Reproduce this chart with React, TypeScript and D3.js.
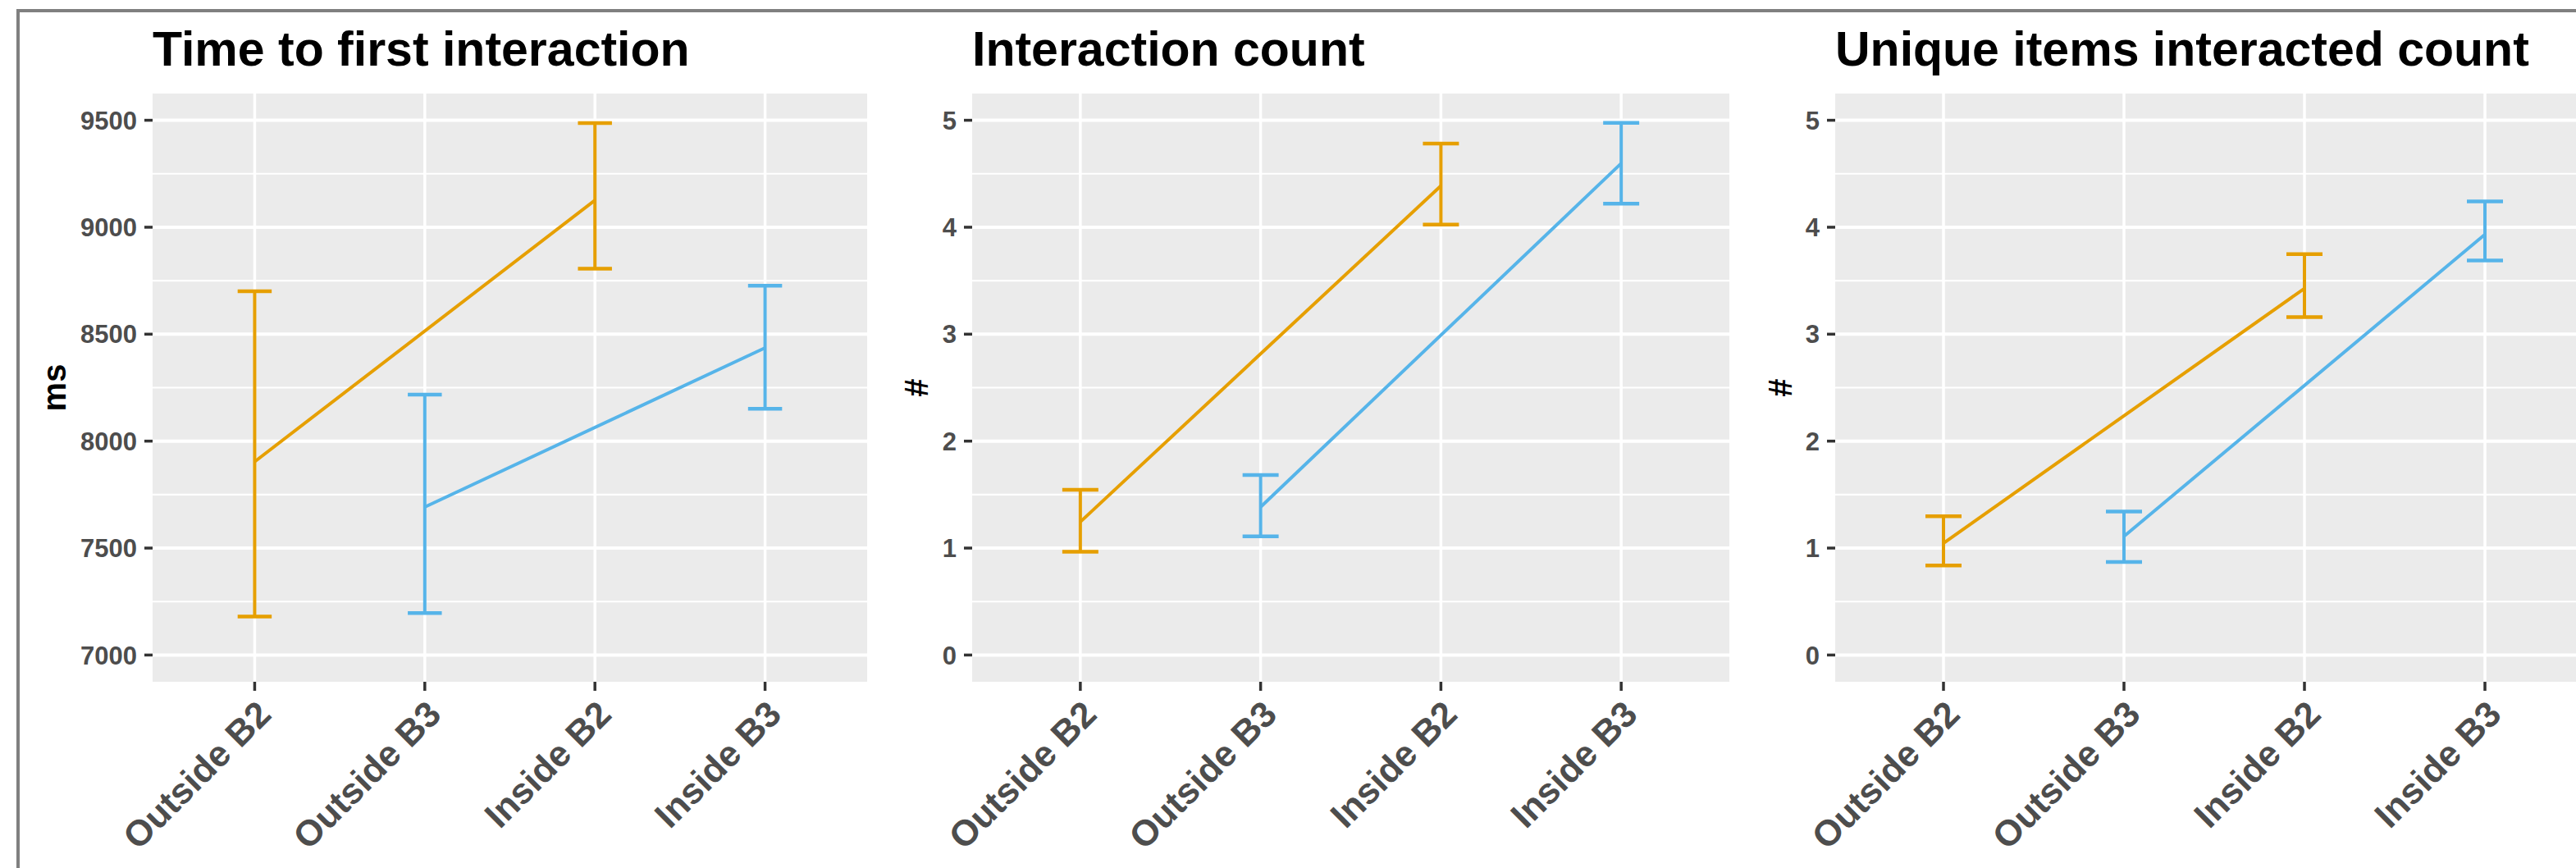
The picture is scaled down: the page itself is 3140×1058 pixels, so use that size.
import React from "react";
import * as d3 from "d3";

// ---------- data ----------
const categories = ["Outside B2", "Outside B3", "Inside B2", "Inside B3"];
const b2Cats = ["Outside B2", "Inside B2"];
const b3Cats = ["Outside B3", "Inside B3"];

const panelTitles = ["Time to first interaction", "Interaction count", "Unique items interacted count"];
const yAxisTitles = ["ms", "#", "#"];

const timeTicks = [7000, 7500, 8000, 8500, 9000, 9500];
const timeMinor = [7250, 7750, 8250, 8750, 9250];
const timeLimits = [7000, 9500];
const countTicks = [0, 1, 2, 3, 4, 5];
const countMinor = [0.5, 1.5, 2.5, 3.5, 4.5];
const countLimits = [0, 5];

const timeMeanB2 = [7904, 9126];
const timeLowB2 = [7180, 8806];
const timeHighB2 = [8701, 9487];
const timeMeanB3 = [7692, 8436];
const timeLowB3 = [7196, 8151];
const timeHighB3 = [8217, 8727];

const countMeanB2 = [1.245, 4.387];
const countLowB2 = [0.965, 4.024];
const countHighB2 = [1.545, 4.783];
const countMeanB3 = [1.384, 4.597];
const countLowB3 = [1.11, 4.221];
const countHighB3 = [1.683, 4.975];

const uniqueMeanB2 = [1.046, 3.428];
const uniqueLowB2 = [0.837, 3.16];
const uniqueHighB2 = [1.297, 3.748];
const uniqueMeanB3 = [1.11, 3.932];
const uniqueLowB3 = [0.869, 3.689];
const uniqueHighB3 = [1.342, 4.241];

// ---------- styling / layout ----------
const W = 3140;
const H = 1058;
const FONT = "'Liberation Sans', Arial, Helvetica, sans-serif";
const ORANGE = "#E69F00";
const BLUE = "#56B4E9";
const PANEL_BG = "#EBEBEB";
const TOP = 114;
const BOTTOM = 831;
const panelX = [
  [186, 1057],
  [1185, 2108],
  [2237, 3161],
];
const yTitleX = [80, 1131, 2184];
const LW = 4;

type Series = { cats: string[]; mean: number[]; low: number[]; high: number[]; color: string };

const panels = [
  {
    title: panelTitles[0],
    yTitle: yAxisTitles[0],
    ticks: timeTicks,
    minor: timeMinor,
    limits: timeLimits,
    series: [
      { cats: b2Cats, mean: timeMeanB2, low: timeLowB2, high: timeHighB2, color: ORANGE },
      { cats: b3Cats, mean: timeMeanB3, low: timeLowB3, high: timeHighB3, color: BLUE },
    ] as Series[],
  },
  {
    title: panelTitles[1],
    yTitle: yAxisTitles[1],
    ticks: countTicks,
    minor: countMinor,
    limits: countLimits,
    series: [
      { cats: b2Cats, mean: countMeanB2, low: countLowB2, high: countHighB2, color: ORANGE },
      { cats: b3Cats, mean: countMeanB3, low: countLowB3, high: countHighB3, color: BLUE },
    ] as Series[],
  },
  {
    title: panelTitles[2],
    yTitle: yAxisTitles[2],
    ticks: countTicks,
    minor: countMinor,
    limits: countLimits,
    series: [
      { cats: b2Cats, mean: uniqueMeanB2, low: uniqueLowB2, high: uniqueHighB2, color: ORANGE },
      { cats: b3Cats, mean: uniqueMeanB3, low: uniqueLowB3, high: uniqueHighB3, color: BLUE },
    ] as Series[],
  },
];

function Panel({ p, i }: { p: (typeof panels)[number]; i: number }) {
  const [x0, x1] = panelX[i];
  const span = p.limits[1] - p.limits[0];
  const y = d3
    .scaleLinear()
    .domain([p.limits[0] - span * 0.05, p.limits[1] + span * 0.05])
    .range([BOTTOM, TOP]);
  const x = d3.scalePoint<string>().domain(categories).range([x0, x1]).padding(0.6);
  const capHalf = (x.step() * 0.2) / 2;
  const xLabelSize = 44;
  const capH = 0.716 * xLabelSize;
  return (
    <g>
      <text x={x0} y={80} fontFamily={FONT} fontWeight="bold" fontSize={59} fill="#000">
        {p.title}
      </text>
      <rect x={x0} y={TOP} width={x1 - x0} height={BOTTOM - TOP} fill={PANEL_BG} />
      {p.minor.map((v) => (
        <line key={"mi" + v} x1={x0} x2={x1} y1={y(v)} y2={y(v)} stroke="#fff" strokeWidth={2.2} />
      ))}
      {p.ticks.map((v) => (
        <line key={"ma" + v} x1={x0} x2={x1} y1={y(v)} y2={y(v)} stroke="#fff" strokeWidth={4} />
      ))}
      {categories.map((c) => (
        <line key={"v" + c} x1={x(c)} x2={x(c)} y1={TOP} y2={BOTTOM} stroke="#fff" strokeWidth={3.5} />
      ))}
      {/* y axis ticks + labels */}
      {p.ticks.map((v) => (
        <g key={"yt" + v}>
          <line x1={x0 - 10} x2={x0} y1={y(v)} y2={y(v)} stroke="#333" strokeWidth={3.5} />
          <text
            x={x0 - 19}
            y={y(v)}
            dy="0.358em"
            textAnchor="end"
            fontFamily={FONT}
            fontWeight="bold"
            fontSize={31}
            fill="#4D4D4D"
          >
            {v}
          </text>
        </g>
      ))}
      {/* x axis ticks + labels */}
      {categories.map((c) => (
        <g key={"xt" + c}>
          <line x1={x(c)} x2={x(c)} y1={BOTTOM} y2={BOTTOM + 11} stroke="#333" strokeWidth={3.5} />
          <text
            transform={`translate(${(x(c) as number) + 0.707 * capH},${851 + 0.707 * capH}) rotate(-45)`}
            textAnchor="end"
            fontFamily={FONT}
            fontWeight="bold"
            fontSize={xLabelSize}
            fill="#4D4D4D"
          >
            {c}
          </text>
        </g>
      ))}
      {/* y axis title */}
      <text
        transform={`translate(${yTitleX[i]},${(TOP + BOTTOM) / 2}) rotate(-90)`}
        textAnchor="middle"
        fontFamily={FONT}
        fontWeight="bold"
        fontSize={40}
        fill="#000"
      >
        {p.yTitle}
      </text>
      {/* series */}
      {p.series.map((s, si) => {
        const path = d3
          .line<number>()
          .x((_, k) => x(s.cats[k]) as number)
          .y((d) => y(d))(s.mean);
        return (
          <g key={"s" + si}>
            <path d={path || ""} fill="none" stroke={s.color} strokeWidth={LW} />
            {s.cats.map((c, k) => {
              const cx = x(c) as number;
              return (
                <g key={c}>
                  <line x1={cx} x2={cx} y1={y(s.low[k])} y2={y(s.high[k])} stroke={s.color} strokeWidth={LW} />
                  <line
                    x1={cx - capHalf}
                    x2={cx + capHalf}
                    y1={y(s.low[k])}
                    y2={y(s.low[k])}
                    stroke={s.color}
                    strokeWidth={LW + 0.5}
                  />
                  <line
                    x1={cx - capHalf}
                    x2={cx + capHalf}
                    y1={y(s.high[k])}
                    y2={y(s.high[k])}
                    stroke={s.color}
                    strokeWidth={LW + 0.5}
                  />
                </g>
              );
            })}
          </g>
        );
      })}
    </g>
  );
}

export default function App() {
  return (
    <svg
      width={W}
      height={H}
      viewBox={`0 0 ${W} ${H}`}
      style={{ position: "absolute", left: 0, top: 0, display: "block", background: "#fff" }}
    >
      <rect x={0} y={0} width={W} height={H} fill="#fff" />
      {panels.map((p, i) => (
        <Panel key={i} p={p} i={i} />
      ))}
      <rect x={22} y={13} width={W + 100} height={H + 100} fill="none" stroke="#808080" strokeWidth={4} />
    </svg>
  );
}
